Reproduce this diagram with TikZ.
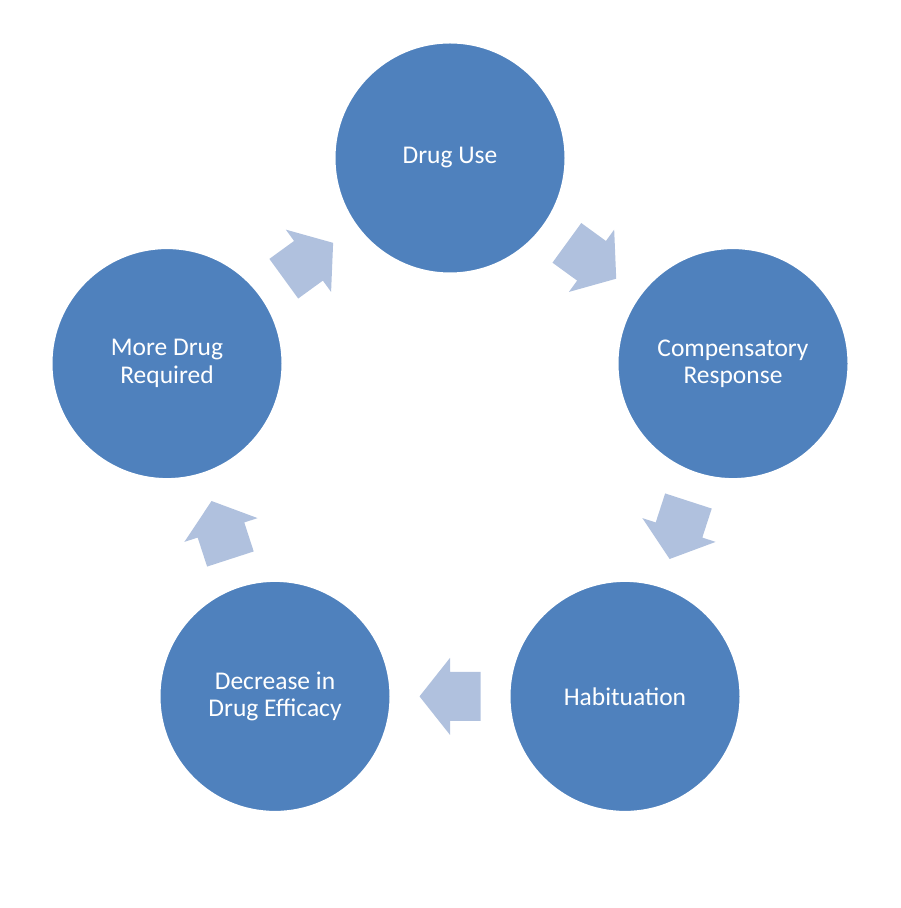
\documentclass[tikz,border=0pt]{standalone}
\usepackage{fontspec}
\setmainfont{Carlito}
\definecolor{stageblue}{RGB}{79,129,189}
\definecolor{arrowblue}{RGB}{176,193,222}
\tikzset{
  stage/.style={circle, fill=stageblue, draw=white, line width=3pt, minimum size=232pt,
    inner sep=0pt, text=white, align=center, font=\fontsize{25.5}{27.5}\selectfont},
  cyclearrow/.style={fill=arrowblue}
}

\begin{document}
\begin{tikzpicture}[x=1pt,y=1pt]
  \useasboundingbox (0,0) rectangle (900,908);
  \node[stage] (druguse) at (450,750) {Drug Use};
  \node[stage] (compensatory) at (733,544.4) {Compensatory\\Response};
  \node[stage] (habituation) at (625,211.6) {Habituation};
  \node[stage] (decrease) at (275,211.6) {Decrease in\\Drug Efficacy};
  \node[stage] (moredrug) at (167,544.4) {More Drug\\Required};
  \foreach \a in {54,-18,-90,-162,126}
    \fill[cyclearrow, shift={(450,452.4)}, shift={(\a:240.8)}, rotate=\a-90]
      (-30.5,-24.5) -- (0,-24.5) -- (0,-38.5) -- (30.5,0) -- (0,38.5)
      -- (0,24.5) -- (-30.5,24.5) -- cycle;
\end{tikzpicture}
\end{document}
